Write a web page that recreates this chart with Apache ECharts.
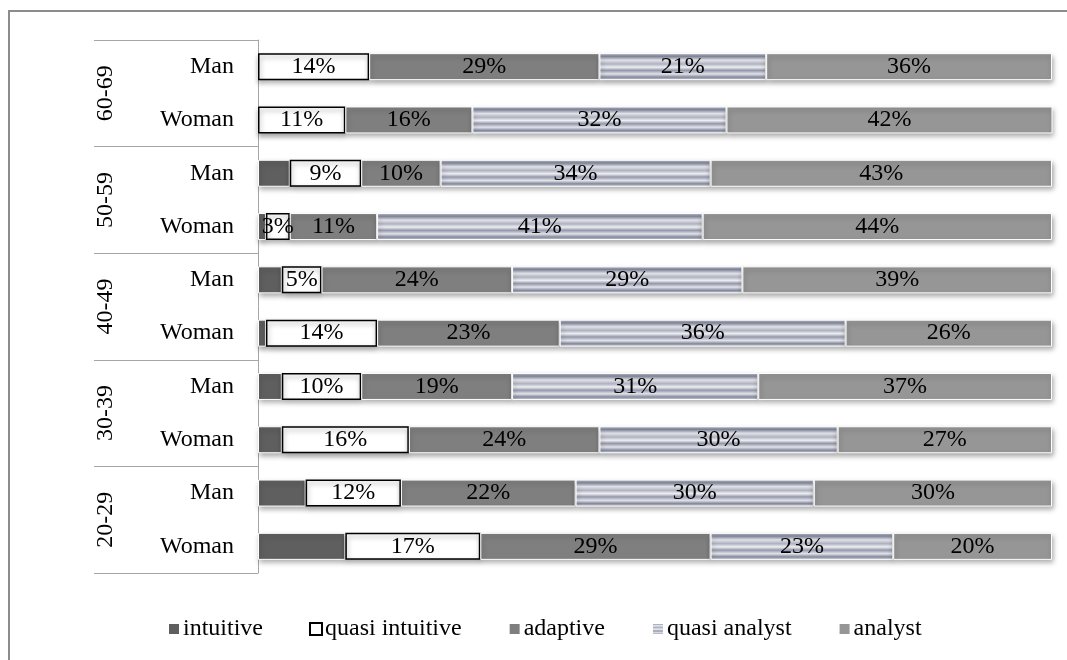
<!DOCTYPE html>
<html>
<head>
<meta charset="utf-8">
<style>
  html, body { margin: 0; padding: 0; background: #fff; }
  #chart { width: 1067px; height: 660px; }
</style>
<script src="https://cdn.jsdelivr.net/npm/echarts@6/dist/echarts.min.js"></script>
</head>
<body>
<div id="chart"></div>
<script>
// Age groups (outer axis) and the gender rows within each group
const ageGroups = ['60-69', '50-59', '40-49', '30-39', '20-29'];
const genders = ['Man', 'Woman'];
const rowKeys = ['60-69|Man', '60-69|Woman', '50-59|Man', '50-59|Woman', '40-49|Man',
                 '40-49|Woman', '30-39|Man', '30-39|Woman', '20-29|Man', '20-29|Woman'];

// Percentage of each decision style per row (same order as rowKeys)
const intuitive      = [0, 0, 4, 1, 3, 1, 3, 3, 6, 11];
const quasiIntuitive = [14, 11, 9, 3, 5, 14, 10, 16, 12, 17];
const adaptive       = [29, 16, 10, 11, 24, 23, 19, 24, 22, 29];
const quasiAnalyst   = [21, 32, 34, 41, 29, 36, 31, 30, 30, 23];
const analyst        = [36, 42, 43, 44, 39, 26, 37, 27, 30, 20];

const serif = 'Liberation Serif, Times New Roman, serif';
const shadow = { shadowColor: 'rgba(0,0,0,0.35)', shadowBlur: 5, shadowOffsetY: 3, shadowOffsetX: 1 };

// horizontal banded fill for the "quasi analyst" segments
const stripes = new echarts.graphic.LinearGradient(0, 0, 0, 1, [
  { offset: 0.00, color: '#bfc2cc' },
  { offset: 0.12, color: '#858a9e' },
  { offset: 0.26, color: '#e6e7ed' },
  { offset: 0.40, color: '#aeb1bf' },
  { offset: 0.52, color: '#eeeff3' },
  { offset: 0.64, color: '#9397aa' },
  { offset: 0.77, color: '#e2e3e9' },
  { offset: 0.89, color: '#858a9e' },
  { offset: 1.00, color: '#d2d4dc' }
]);

function seg(name, data, style, withLabel) {
  return {
    name: name,
    type: 'bar',
    stack: 'total',
    barWidth: 27,
    data: data,
    itemStyle: Object.assign({}, shadow, style),
    label: {
      show: withLabel,
      position: 'inside',
      formatter: '{c}%',
      color: '#000',
      fontFamily: serif,
      fontSize: 24
    },
    emphasis: { disabled: true }
  };
}

const chart = echarts.init(document.getElementById('chart'), null, { renderer: 'canvas' });
chart.setOption({
  backgroundColor: '#fff',
  animation: false,
  graphic: [{
    type: 'rect',
    shape: { x: 9, y: 11, width: 1200, height: 800 },
    style: { fill: 'none', stroke: '#8c8c8c', lineWidth: 2 },
    silent: true
  }],
  grid: [
    { left: 258, right: 15, top: 40, bottom: 87 },
    { left: 258, right: 15, top: 40, bottom: 87 }
  ],
  xAxis: [
    { type: 'value', min: 0, max: 100, show: false, gridIndex: 0 },
    { type: 'value', min: 0, max: 100, show: false, gridIndex: 1 }
  ],
  yAxis: [
    {
      type: 'category',
      gridIndex: 0,
      inverse: true,
      data: rowKeys,
      axisLine: { show: true, lineStyle: { color: '#a6a6a6', width: 1 } },
      axisTick: { show: false },
      axisLabel: {
        margin: 24,
        color: '#000',
        fontFamily: serif,
        fontSize: 24,
        formatter: v => v.split('|')[1]
      }
    },
    {
      type: 'category',
      gridIndex: 1,
      inverse: true,
      data: ageGroups,
      axisLine: { show: false },
      axisTick: { show: true, length: 164, lineStyle: { color: '#a6a6a6', width: 1 } },
      axisLabel: {
        rotate: 90,
        margin: 140,
        color: '#000',
        fontFamily: serif,
        fontSize: 24
      }
    }
  ],
  legend: {
    bottom: 14,
    left: 162,
    icon: 'rect',
    itemWidth: 12,
    itemHeight: 12,
    itemGap: 46,
    textStyle: { fontFamily: serif, fontSize: 24, color: '#000', padding: [0, 0, 0, -2] },
    data: ['intuitive', 'quasi intuitive', 'adaptive', 'quasi analyst', 'analyst']
  },
  series: [
    seg('intuitive', intuitive, { color: '#5f5f5f', borderColor: '#fff', borderWidth: 1 }, false),
    seg('quasi intuitive', quasiIntuitive, { color: '#ffffff', borderColor: '#000', borderWidth: 1.5 }, true),
    seg('adaptive', adaptive, { color: '#7f7f7f', borderColor: '#fff', borderWidth: 1 }, true),
    seg('quasi analyst', quasiAnalyst, { color: stripes, borderColor: '#fff', borderWidth: 1 }, true),
    seg('analyst', analyst, { color: '#969696', borderColor: '#fff', borderWidth: 1 }, true)
  ]
});
</script>
</body>
</html>
